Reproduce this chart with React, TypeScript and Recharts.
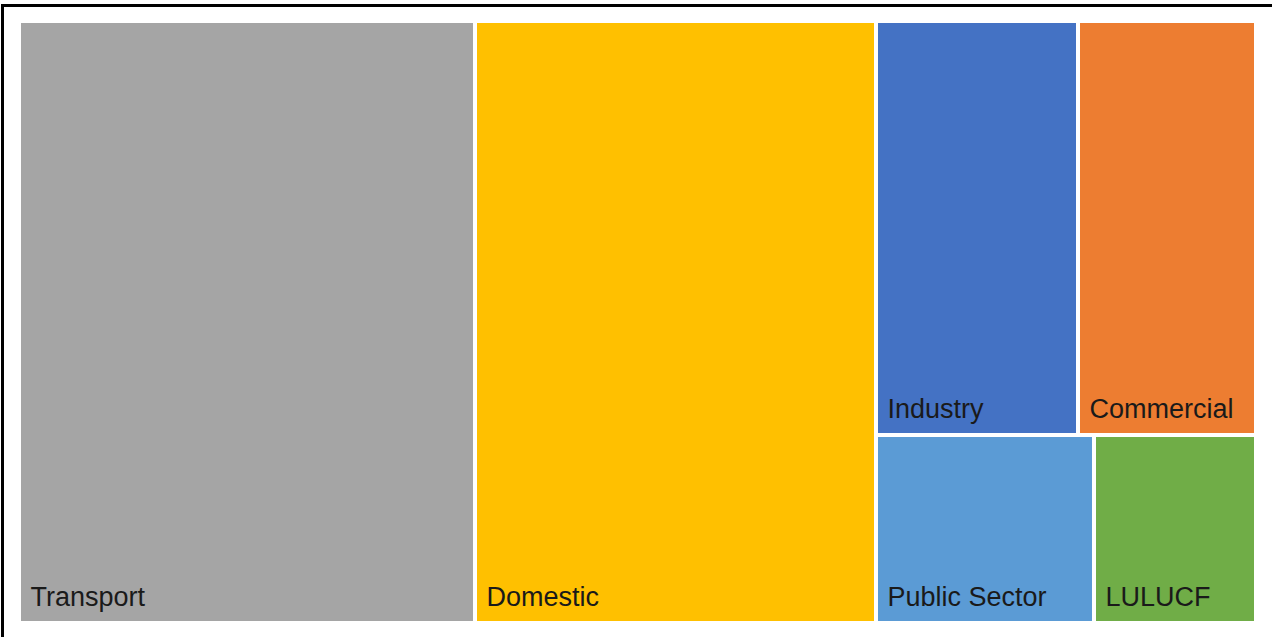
import { Treemap } from "recharts";

const sectors = ["Transport", "Domestic", "Industry", "Commercial", "Public Sector", "LULUCF"];
const shares = [368, 324, 112, 99, 55, 41];
const sectorColors = ["#A5A5A5", "#FFC000", "#4472C4", "#ED7D31", "#5B9BD5", "#70AD47"];

const data = sectors.map((name, i) => ({ name, size: shares[i] }));

const Cell = (props: any) => {
  const { x, y, width, height, depth, name, index } = props;
  if (depth !== 1) return <g />;
  return (
    <g>
      <rect
        x={x + 2}
        y={y + 2}
        width={width - 4}
        height={height - 4}
        fill={sectorColors[index % sectorColors.length]}
        stroke="none"
      />
      <text
        x={x + 11.5}
        y={y + height - 17.5}
        fill="#1a1a1a"
        fontSize={27}
        fontFamily="'Liberation Sans', Arial, sans-serif"
      >
        {name}
      </text>
    </g>
  );
};

export default function App() {
  return (
    <div
      style={{
        position: "absolute",
        left: 0,
        top: 0,
        width: 1272,
        height: 637,
        background: "#fff",
        overflow: "hidden",
      }}
    >
      <div
        style={{
          position: "absolute",
          left: 1,
          top: 4,
          width: 1280,
          height: 640,
          borderLeft: "3px solid #000",
          borderTop: "3px solid #000",
        }}
      />
      <div style={{ position: "absolute", left: 19, top: 21 }}>
        <Treemap
          width={1237}
          height={602}
          data={data}
          dataKey="size"
          nameKey="name"
          aspectRatio={1.3}
          isAnimationActive={false}
          content={<Cell />}
        />
      </div>
    </div>
  );
}
